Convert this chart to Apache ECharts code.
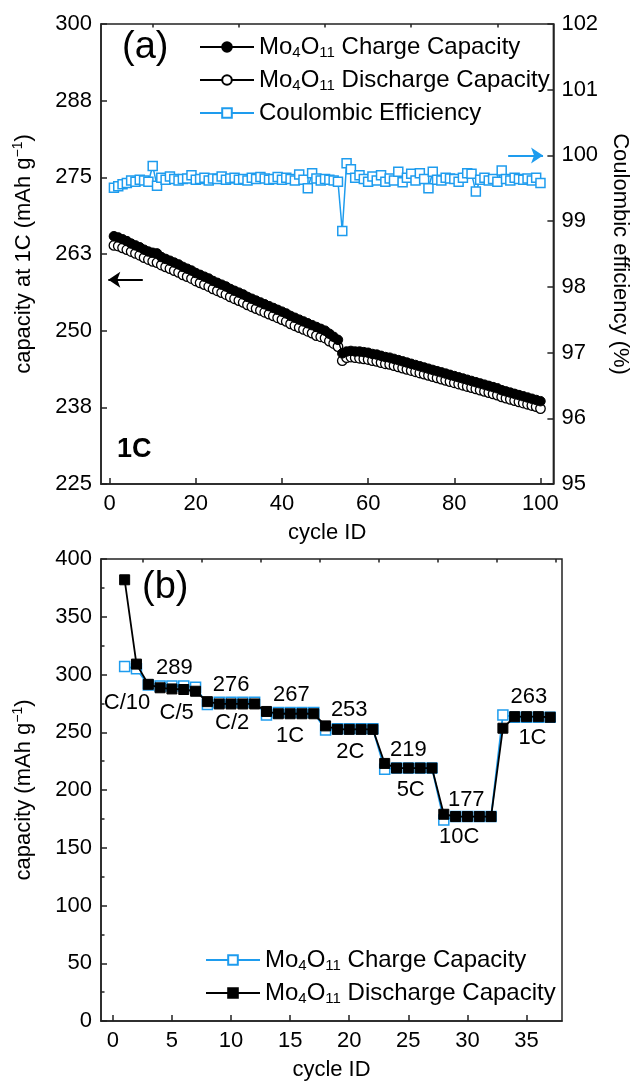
<!DOCTYPE html>
<html>
<head>
<meta charset="utf-8">
<script src="https://cdn.jsdelivr.net/npm/echarts@6/dist/echarts.min.js"></script>
<style>html,body{margin:0;padding:0;background:#fff;}#c{width:639px;height:1084px;}</style>
</head>
<body>
<div id="c"></div>
<script>
// ---------- Panel (a) data: cycles 1..100 at 1C ----------
const chargeA = [265.4,265.2,264.9,264.6,264.2,263.9,263.6,263.2,262.9,262.7,
  262.6,262.0,261.7,261.4,261.1,260.8,260.4,260.1,259.8,259.4,
  259.1,258.8,258.5,258.1,257.8,257.5,257.2,256.8,256.5,256.2,
  255.9,255.5,255.2,254.9,254.6,254.3,254.0,253.7,253.4,253.1,
  252.8,252.4,252.1,251.8,251.5,251.2,250.9,250.6,250.3,250.0,
  249.5,249.0,248.5,246.3,246.6,246.7,246.6,246.6,246.5,246.4,
  246.2,246.1,245.9,245.7,245.6,245.4,245.2,245.0,244.8,244.6,
  244.4,244.2,244.0,243.8,243.6,243.4,243.2,243.0,242.8,242.6,
  242.4,242.2,242.0,241.8,241.6,241.4,241.2,241.0,240.8,240.6,
  240.3,240.1,239.9,239.7,239.5,239.3,239.1,238.9,238.7,238.5];
const dischargeA = [263.9,263.8,263.5,263.2,262.9,262.6,262.3,261.9,261.6,261.3,
  261.1,260.7,260.4,260.1,259.8,259.5,259.1,258.8,258.5,258.1,
  257.8,257.5,257.2,256.8,256.5,256.2,255.9,255.5,255.2,254.9,
  254.6,254.2,253.9,253.6,253.3,253.0,252.7,252.4,252.1,251.8,
  251.5,251.1,250.8,250.5,250.2,249.9,249.6,249.2,249.0,248.8,
  248.3,247.9,247.4,245.1,245.6,245.7,245.6,245.5,245.4,245.3,
  245.1,245.0,244.8,244.6,244.5,244.3,244.1,243.9,243.7,243.5,
  243.3,243.1,242.9,242.7,242.5,242.3,242.1,241.9,241.7,241.5,
  241.3,241.1,240.9,240.7,240.5,240.3,240.1,239.9,239.7,239.5,
  239.2,239.0,238.8,238.6,238.4,238.2,238.0,237.8,237.6,237.3];
const ceA = [99.51,99.53,99.56,99.58,99.62,99.60,99.63,99.62,99.60,99.84,
  99.54,99.66,99.63,99.68,99.64,99.62,99.64,99.65,99.70,99.63,
  99.64,99.66,99.62,99.65,99.64,99.68,99.63,99.65,99.66,99.63,
  99.64,99.62,99.66,99.64,99.67,99.65,99.63,99.64,99.67,99.63,
  99.66,99.64,99.62,99.71,99.63,99.50,99.73,99.65,99.62,99.64,
  99.63,99.62,99.60,98.85,99.88,99.79,99.66,99.70,99.64,99.60,
  99.68,99.62,99.70,99.60,99.65,99.62,99.75,99.59,99.66,99.72,
  99.62,99.73,99.64,99.50,99.75,99.63,99.62,99.66,99.65,99.64,
  99.60,99.66,99.73,99.72,99.45,99.63,99.66,99.62,99.64,99.60,
  99.77,99.64,99.62,99.66,99.64,99.63,99.65,99.62,99.66,99.58];
const xTicksA = [0,20,40,60,80,100];
const xMinorA = [10,30,50,70,90];

// ---------- Panel (b) data: rate capability, cycles 1..37 ----------
const chargeB = [307,305,291,290,290,290,289,274,276,276,276,276,265,267,267,267,267,
  252,253,253,253,253,218,219,219,219,219,174,177,177,177,177,265,263,263,263,263];
const dischargeB = [382,309,291.5,288.5,287.5,287,285.5,276.5,274.5,274.5,274.5,274.5,
  268,266,266,266,266,255.5,252.5,252.5,252.5,252.5,223,219,219,219,219,
  179,177,177,177,177,253.5,263.5,263.5,263.5,263];
const xTicksB = [0,5,10,15,20,25,30,35];
const xMinorB = [2.5,7.5,12.5,17.5,22.5,27.5,32.5,37.5];
const annText = ['C/10','289','C/5','276','C/2','267','1C','253','2C','219','5C','177','10C','263','1C'];
const annX    = [1.2, 5.2, 5.4, 10.0, 10.1, 15.1, 15.0, 20.0, 20.1, 25.0, 25.2, 29.9, 29.3, 35.2, 35.5];
const annY    = [275, 305.6, 266.7, 291, 258, 282, 246.8, 269, 233, 234.6, 200, 191.3, 159, 280.5, 245];

const FONT = "'Liberation Sans', Arial, Helvetica, sans-serif";
const BLUE = '#1E9CEE';
const AX = '#222';

const richLeg = {
  n: {fontSize: 24, fontFamily: FONT, color: '#000', lineHeight: 26},
  s: {fontSize: 15, fontFamily: FONT, color: '#000', lineHeight: 12, verticalAlign: 'bottom'}
};
const richName = {
  n: {fontSize: 22, fontFamily: FONT, color: '#000', lineHeight: 26},
  p: {fontSize: 14, fontFamily: FONT, color: '#000', lineHeight: 14, verticalAlign: 'top'}
};
const legNames = {
  aC: '{n|Mo}{s|4}{n|O}{s|11}{n| Charge Capacity}',
  aD: '{n|Mo}{s|4}{n|O}{s|11}{n| Discharge Capacity}',
  aE: '{n|Coulombic Efficiency}',
  bC: '{n|Mo}{s|4}{n|O}{s|11}{n| Charge Capacity}',
  bD: '{n|Mo}{s|4}{n|O}{s|11}{n| Discharge Capacity}'
};

function xAxisMain(grid, min, max, ticks, name) {
  return {
    type: 'value', gridIndex: grid, min: min, max: max,
    axisLine: {show: true, onZero: false, lineStyle: {color: AX, width: 1.5}},
    axisTick: {show: true, inside: true, length: 6, customValues: ticks, lineStyle: {color: AX, width: 1.5}},
    axisLabel: {show: true, customValues: ticks, fontSize: 22, fontFamily: FONT, color: '#000', margin: 9},
    splitLine: {show: false},
    name: name, nameLocation: 'middle', nameGap: 38,
    nameTextStyle: {fontSize: 22, fontFamily: FONT, color: '#000'}
  };
}
function xAxisMinor(grid, min, max, ticks) {
  return {
    type: 'value', gridIndex: grid, min: min, max: max,
    axisLine: {show: false, onZero: false},
    axisTick: {show: true, inside: true, length: 3.5, customValues: ticks, lineStyle: {color: AX, width: 1.5}},
    axisLabel: {show: false, customValues: ticks},
    splitLine: {show: false}
  };
}
function arrowLine(color, from, to) {
  return {
    silent: true, symbol: ['none', 'arrow'], symbolSize: 12,
    label: {show: false}, emphasis: {disabled: true},
    lineStyle: {color: color, width: 2, type: 'solid'},
    itemStyle: {color: color},
    data: [[{coord: from}, {coord: to}]]
  };
}

const option = {
  animation: false,
  backgroundColor: '#fff',
  textStyle: {fontFamily: FONT},
  grid: [
    {left: 101, top: 24, width: 461, height: 460, show: true, borderColor: AX, borderWidth: 1.5},
    {left: 101, top: 559, width: 461, height: 462, show: true, borderColor: AX, borderWidth: 1.5}
  ],
  legend: [
    {
      orient: 'vertical', left: 194, top: 30, itemWidth: 54, itemHeight: 12, itemGap: 8,
      data: ['aC', 'aD', 'aE'],
      formatter: n => legNames[n],
      textStyle: {rich: richLeg}, selectedMode: false
    },
    {
      orient: 'vertical', left: 200, top: 943, itemWidth: 54, itemHeight: 12, itemGap: 8,
      data: ['bC', 'bD'],
      formatter: n => legNames[n],
      textStyle: {rich: richLeg}, selectedMode: false
    }
  ],
  xAxis: [
    xAxisMain(0, -2, 103, xTicksA, 'cycle ID'),
    xAxisMinor(0, -2, 103, xMinorA),
    xAxisMain(1, -1, 38, xTicksB, 'cycle ID'),
    xAxisMinor(1, -1, 38, xMinorB)
  ],
  yAxis: [
    {
      type: 'value', gridIndex: 0, min: 225, max: 300, interval: 12.5, position: 'left',
      axisLine: {show: true, onZero: false, lineStyle: {color: AX, width: 1.5}},
      axisTick: {show: true, inside: true, length: 6, lineStyle: {color: AX, width: 1.5}},
      axisLabel: {fontSize: 22, fontFamily: FONT, color: '#000', margin: 9, formatter: v => String(Math.round(v))},
      splitLine: {show: false},
      name: '{n|capacity at 1C (mAh g}{p|\u22121}{n|)}', nameLocation: 'middle', nameGap: 64, nameRotate: 90,
      nameTextStyle: {rich: richName}
    },
    {
      type: 'value', gridIndex: 0, min: 95, max: 102, interval: 1, position: 'right',
      axisLine: {show: true, onZero: false, lineStyle: {color: AX, width: 1.5}},
      axisTick: {show: true, inside: true, length: 6, lineStyle: {color: AX, width: 1.5}},
      axisLabel: {fontSize: 22, fontFamily: FONT, color: '#000', margin: 8},
      splitLine: {show: false},
      name: 'Coulombic efficiency (%)', nameLocation: 'middle', nameGap: 55, nameRotate: -90,
      nameTextStyle: {fontSize: 22, fontFamily: FONT, color: '#000'}
    },
    {
      type: 'value', gridIndex: 1, min: 0, max: 400, interval: 50, position: 'left',
      axisLine: {show: true, onZero: false, lineStyle: {color: AX, width: 1.5}},
      axisTick: {show: true, inside: true, length: 6, lineStyle: {color: AX, width: 1.5}},
      minorTick: {show: true, splitNumber: 2, length: 3.5, lineStyle: {color: AX, width: 1.5}},
      axisLabel: {fontSize: 22, fontFamily: FONT, color: '#000', margin: 9},
      splitLine: {show: false},
      name: '{n|capacity (mAh g}{p|\u22121}{n|)}', nameLocation: 'middle', nameGap: 64, nameRotate: 90,
      nameTextStyle: {rich: richName}
    }
  ],
  series: [
    {
      name: 'aC', type: 'line', xAxisIndex: 0, yAxisIndex: 0, z: 3,
      data: chargeA.map((v, i) => [i + 1, v]),
      symbol: 'circle', symbolSize: 9.5,
      itemStyle: {color: '#000', borderColor: '#000', borderWidth: 1},
      lineStyle: {color: '#000', width: 1.5},
      markLine: arrowLine('#000', [7.7, 258.3], [-0.3, 258.3])
    },
    {
      name: 'aD', type: 'line', xAxisIndex: 0, yAxisIndex: 0, z: 2,
      data: dischargeA.map((v, i) => [i + 1, v]),
      symbol: 'circle', symbolSize: 9.5,
      itemStyle: {color: '#fff', borderColor: '#000', borderWidth: 1.3},
      lineStyle: {color: '#000', width: 1.5}
    },
    {
      name: 'aE', type: 'line', xAxisIndex: 0, yAxisIndex: 1, z: 4,
      data: ceA.map((v, i) => [i + 1, v]),
      symbol: 'rect', symbolSize: 9,
      itemStyle: {color: '#fff', borderColor: BLUE, borderWidth: 1.5},
      lineStyle: {color: BLUE, width: 1.5},
      markLine: arrowLine(BLUE, [92.5, 100], [100.6, 100])
    },
    {
      name: 'bC', type: 'line', xAxisIndex: 2, yAxisIndex: 2, z: 2,
      data: chargeB.map((v, i) => [i + 1, v]),
      symbol: 'rect', symbolSize: 10,
      itemStyle: {color: '#fff', borderColor: BLUE, borderWidth: 1.5},
      lineStyle: {color: BLUE, width: 1.8}
    },
    {
      name: 'bD', type: 'line', xAxisIndex: 2, yAxisIndex: 2, z: 3,
      data: dischargeB.map((v, i) => [i + 1, v]),
      symbol: 'rect', symbolSize: 10,
      itemStyle: {color: '#000', borderColor: '#000', borderWidth: 1},
      lineStyle: {color: '#000', width: 1.8}
    },
    {
      name: 'ann', type: 'scatter', xAxisIndex: 2, yAxisIndex: 2, z: 5, silent: true,
      data: annX.map((x, i) => [x, annY[i]]),
      symbolSize: 0,
      itemStyle: {opacity: 1},
      label: {show: true, position: 'inside', formatter: p => annText[p.dataIndex],
        fontSize: 22, fontFamily: FONT, color: '#000', opacity: 1, textBorderWidth: 0}
    }
  ],
  graphic: [
    {type: 'text', left: 122, top: 29, style: {text: '(a)', fontSize: 38, fontFamily: FONT, fill: '#000'}},
    {type: 'text', left: 117, top: 436, style: {text: '1C', fontSize: 27, fontWeight: 'bold', fontFamily: FONT, fill: '#000'}},
    {type: 'text', left: 142, top: 569, style: {text: '(b)', fontSize: 38, fontFamily: FONT, fill: '#000'}}
  ]
};

const chart = echarts.init(document.getElementById('c'), null, {renderer: 'canvas'});
chart.setOption(option);
</script>
</body>
</html>
